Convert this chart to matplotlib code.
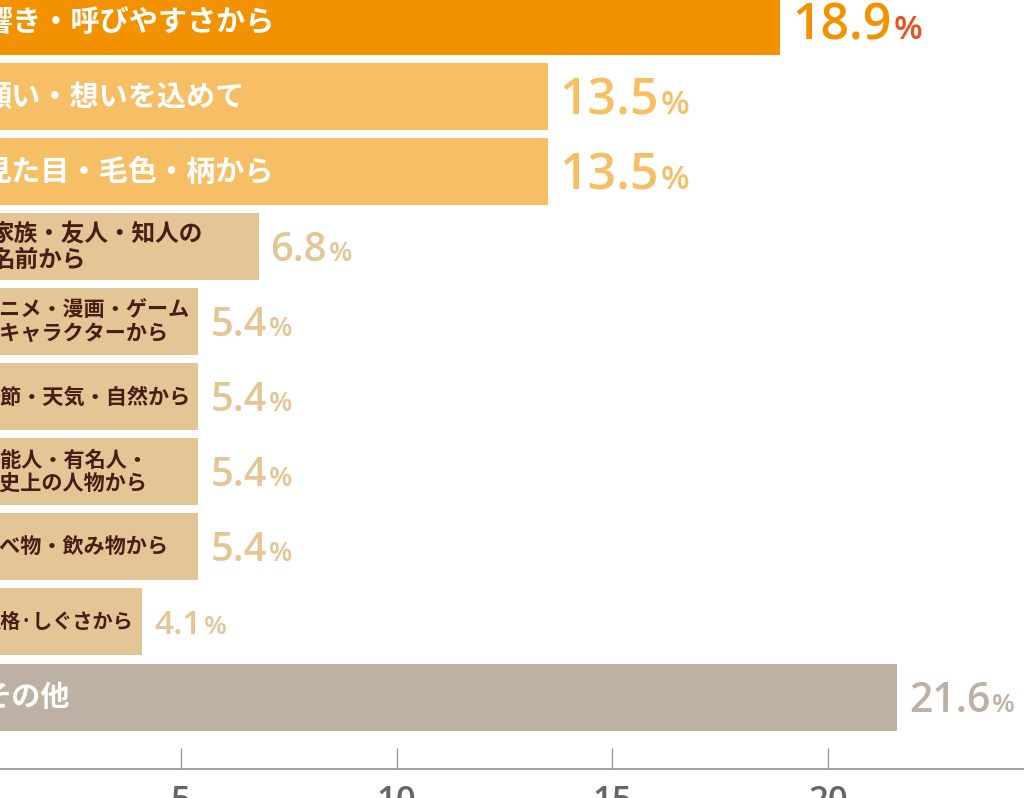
import matplotlib
matplotlib.use("Agg")
import matplotlib.pyplot as plt
from matplotlib.transforms import IdentityTransform

# ---------------- data ----------------
categories = [
    "響き・呼びやすさから",
    "願い・想いを込めて",
    "見た目・毛色・柄から",
    "家族・友人・知人の\n名前から",
    "アニメ・漫画・ゲーム\nのキャラクターから",
    "季節・天気・自然から",
    "芸能人・有名人・\n歴史上の人物から",
    "食べ物・飲み物から",
    "性格·しぐさから",
    "その他",
]
values = [18.9, 13.5, 13.5, 6.8, 5.4, 5.4, 5.4, 5.4, 4.1, 21.6]
value_labels = ["18.9", "13.5", "13.5", "6.8", "5.4", "5.4", "5.4", "5.4", "4.1", "21.6"]
x_ticks = [5, 10, 15, 20]
x_tick_labels = ["5", "10", "15", "20"]

# ---------------- style ----------------
ORANGE = "#F39200"
LIGHT = "#F6BF66"
TAN = "#E3C596"
GRAY = "#BDB1A3"
RED = "#E9501F"
BROWN = "#4A1D14"

bar_colors = [ORANGE, LIGHT, LIGHT, TAN, TAN, TAN, TAN, TAN, TAN, GRAY]
num_colors = bar_colors
pct_colors = [RED, LIGHT, LIGHT, TAN, TAN, TAN, TAN, TAN, TAN, GRAY]
num_sizes = [36, 36, 36, 28.5, 28.5, 28.5, 28.5, 28.5, 24, 29.5]
pct_sizes = [24, 24, 24, 19.5, 19.5, 19.5, 19.5, 19.5, 19, 19]
label_colors = ["white", "white", "white", BROWN, BROWN, BROWN, BROWN, BROWN, BROWN, "white"]
label_sizes = [21, 21, 21, 17, 15.2, 15.2, 15.2, 15.2, 14.5, 21]
label_start_px = [-17, -17, -18, -9, -21, -21, -21, -21, -19, -18]

JP = ["Noto Sans CJK JP", "DejaVu Sans"]
NUM = ["Open Sans", "DejaVu Sans"]

W, H = 1024, 798
DPI = 100
fig = plt.figure(figsize=(W / DPI, H / DPI), dpi=DPI)
fig.patch.set_facecolor("white")

axis_y_px = 769          # axis line, pixels from top
ppu = 43.13              # pixels per unit
x0_px = -34.7            # pixel position of x = 0
pitch = 75.06            # bar pitch in pixels
c0 = 21.5                # first bar centre, pixels from top

ax = fig.add_axes([0, (H - axis_y_px) / H, 1, axis_y_px / H])
xmin = (0 - x0_px) / ppu
ax.set_xlim(xmin, xmin + W / ppu)
ax.set_ylim((axis_y_px - c0) / pitch, -c0 / pitch)

n = len(values)
ypos = list(range(n))
ax.barh(ypos, values, height=67 / pitch, color=bar_colors, left=0, zorder=2)

for s in ["top", "left", "right"]:
    ax.spines[s].set_visible(False)
ax.spines["bottom"].set_color("#9C9C9C")
ax.spines["bottom"].set_linewidth(1.3)
ax.set_yticks([])
ax.set_xticks(x_ticks)
ax.set_xticklabels(x_tick_labels, fontfamily=NUM, fontweight="semibold")
ax.tick_params(axis="x", direction="in", length=15, width=1.0, color="#9C9C9C",
               pad=11.5, labelsize=25, labelcolor="#666666")

# labels inside bars
for i, (lab, col, fs, sp) in enumerate(zip(categories, label_colors, label_sizes, label_start_px)):
    xd = (sp - x0_px) / ppu
    ax.text(xd, i, lab, ha="left", va="center", color=col, fontsize=fs,
            fontfamily=JP, fontweight="bold", linespacing=1.15, zorder=3)

# value labels
fig.canvas.draw()
renderer = fig.canvas.get_renderer()
gap_px = 12
for i, v in enumerate(values):
    ax_disp = ax.transData.transform((v, i))
    digit_h = num_sizes[i] * 0.714 * DPI / 72.0
    bx = ax_disp[0] + gap_px
    by = ax_disp[1] - digit_h / 2.0
    t = fig.text(bx, by, value_labels[i], transform=IdentityTransform(),
                 ha="left", va="baseline", color=num_colors[i],
                 fontsize=num_sizes[i], fontfamily=NUM, fontweight="semibold")
    bb = t.get_window_extent(renderer=renderer)
    fig.text(bb.x1 + 2, by, "%", transform=IdentityTransform(),
             ha="left", va="baseline", color=pct_colors[i],
             fontsize=pct_sizes[i], fontfamily=NUM, fontweight="semibold")

fig.savefig("out.png", dpi=DPI, facecolor="white")
